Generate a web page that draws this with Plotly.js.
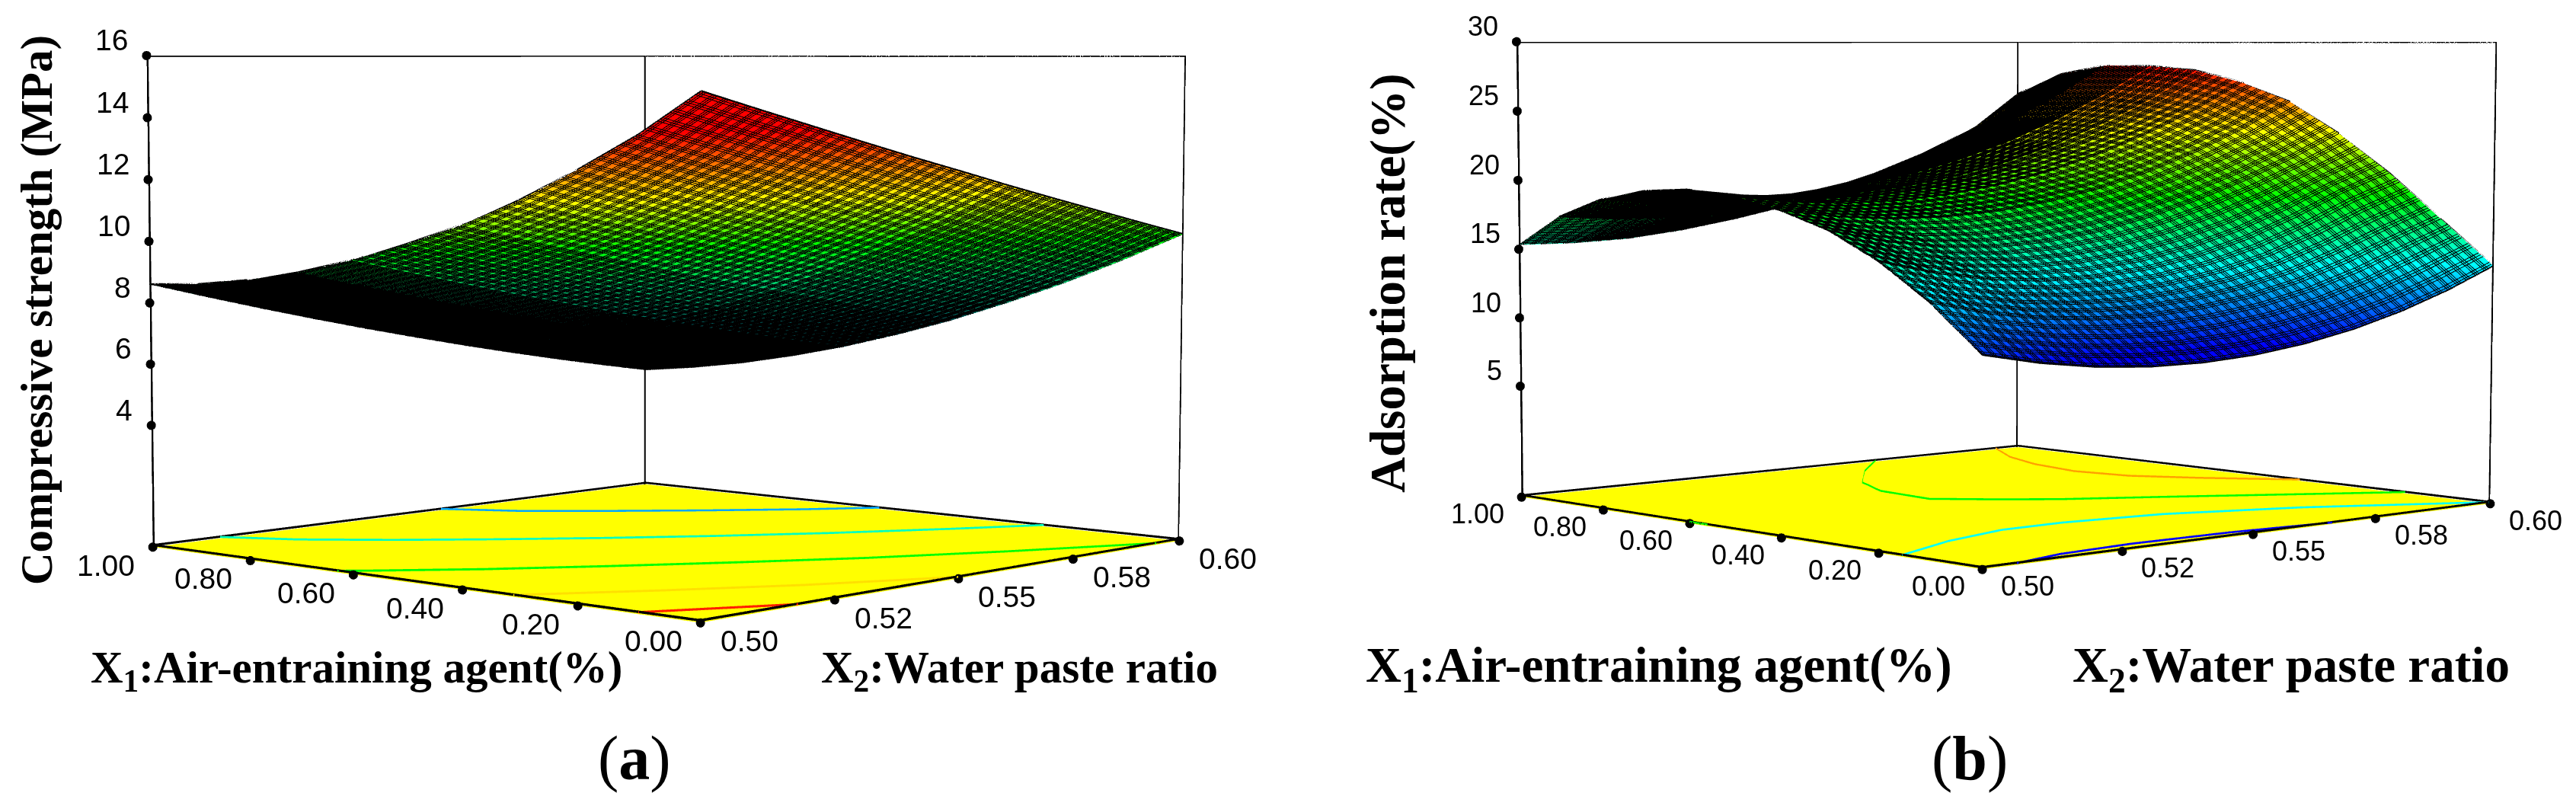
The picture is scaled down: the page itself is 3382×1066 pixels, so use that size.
<!DOCTYPE html>
<html>
<head>
<meta charset="utf-8">
<script src="https://cdn.plot.ly/plotly-3.0.1.min.js"></script>
<style>
  html, body { margin: 0; padding: 0; background: #fff; overflow: hidden; }
  /* plotly fixes the 3d fov at 45deg, the reference is much more telephoto,
     so the plot is taller than the page and only its middle shows */
  #page { position: relative; width: 3382px; height: 1066px; overflow: hidden; }
  #chart { position: absolute; left: 0; top: -1467px; width: 3382px; height: 4000px; }
</style>
</head>
<body>
<div id="page"><div id="chart"></div></div>
<script>
// shared axes
var x1Values = [0, 0.1, 0.2, 0.3, 0.4, 0.5, 0.6, 0.7, 0.8, 0.9, 1]
var x2Values = [0.5, 0.51, 0.52, 0.53, 0.54, 0.55, 0.56, 0.57, 0.58, 0.59, 0.6]
var x1Ticks = [0, 0.2, 0.4, 0.6, 0.8, 1]
var x1TickText = ['0.00', '0.20', '0.40', '0.60', '0.80', '1.00']
var x2Ticks = [0.5, 0.525, 0.55, 0.575, 0.6]
var x2TickText = ['0.50', '0.52', '0.55', '0.58', '0.60']

// (a) compressive strength, rows go with x2Values, columns with x1Values
var strength = [
  [15.00, 13.75, 12.70, 11.75, 10.95, 10.30, 9.73, 9.27, 8.93, 8.70, 8.60],
  [14.48, 13.26, 12.21, 11.27, 10.48, 9.83, 9.26, 8.78, 8.44, 8.20, 8.08],
  [13.97, 12.77, 11.74, 10.82, 10.03, 9.37, 8.80, 8.33, 7.96, 7.71, 7.58],
  [13.46, 12.30, 11.28, 10.37, 9.59, 8.93, 8.35, 7.87, 7.51, 7.26, 7.10],
  [12.96, 11.83, 10.83, 9.93, 9.15, 8.50, 7.93, 7.45, 7.08, 6.81, 6.64],
  [12.48, 11.36, 10.39, 9.50, 8.74, 8.09, 7.51, 7.03, 6.65, 6.38, 6.20],
  [11.99, 10.91, 9.95, 9.09, 8.34, 7.69, 7.12, 6.64, 6.26, 5.97, 5.78],
  [11.52, 10.47, 9.54, 8.69, 7.95, 7.30, 6.73, 6.25, 5.88, 5.58, 5.38],
  [11.06, 10.04, 9.13, 8.30, 7.57, 6.93, 6.37, 5.89, 5.51, 5.22, 5.00],
  [10.60, 9.62, 8.73, 7.93, 7.20, 6.57, 6.01, 5.54, 5.16, 4.86, 4.64],
  [10.15, 9.21, 8.34, 7.56, 6.85, 6.23, 5.68, 5.22, 4.83, 4.53, 4.30]
]
var strengthTicks = [4, 6, 8, 10, 12, 14, 16]
var strengthRange = [0, 16]
var strengthColor = [4.3, 15]
// the low end only shows as specks in the closed-up mesh of the reference
var strengthScale = [[0, '#000810'], [0.25, '#006060'], [0.4, '#00d070'], [0.54, '#00ff00'], [0.69, '#ffff00'], [0.89, '#ff0000'], [1, '#ff0000']]

// (b) adsorption rate
var adsorption = [
  [10.40, 13.45, 15.85, 17.65, 18.80, 19.55, 19.90, 19.65, 18.90, 17.50, 15.30],
  [9.60, 12.50, 14.87, 16.75, 18.23, 19.05, 19.40, 19.19, 18.51, 17.17, 15.25],
  [9.06, 11.90, 14.23, 16.20, 17.93, 18.83, 19.18, 19.02, 18.40, 17.13, 15.40],
  [8.78, 11.60, 13.93, 16.00, 17.91, 18.88, 19.24, 19.14, 18.59, 17.38, 15.85],
  [8.76, 11.55, 13.96, 16.20, 18.17, 19.20, 19.60, 19.55, 19.08, 17.93, 16.50],
  [8.99, 11.85, 14.33, 16.75, 18.70, 19.80, 20.23, 20.25, 19.85, 18.78, 17.30],
  [9.48, 12.40, 15.04, 17.60, 19.51, 20.67, 21.16, 21.24, 20.92, 19.91, 18.30],
  [10.22, 13.25, 16.09, 18.70, 20.59, 21.82, 22.36, 22.52, 22.27, 21.34, 19.50],
  [11.22, 14.45, 17.48, 20.00, 21.95, 23.24, 23.86, 24.09, 23.92, 23.07, 21.00],
  [12.48, 15.85, 19.10, 21.50, 23.59, 24.93, 25.64, 25.95, 25.87, 25.09, 23.00],
  [14.00, 17.20, 20.40, 23.20, 25.50, 26.90, 27.80, 28.10, 28.10, 27.40, 25.80]
]
var adsorptionTicks = [5, 10, 15, 20, 25, 30]
var adsorptionRange = [-3.15, 30]
var adsorptionColor = [9.5, 28.1]
var adsorptionScale = [[0, '#0000ff'], [0.25, '#00ffff'], [0.5, '#00ff00'], [0.75, '#ffff00'], [1, '#ff0000']]

// floor contours
var contoursA = [
  { color: '#00a8ff', x1: [1, 0.9, 0.8, 0.7, 0.6, 0.53], x2: [0.555, 0.561, 0.57, 0.58, 0.591, 0.6] },
  { color: '#00ffc0', x1: [1, 0.9, 0.8, 0.7, 0.6, 0.5, 0.4, 0.3, 0.23], x2: [0.512, 0.5175, 0.526, 0.536, 0.547, 0.559, 0.5725, 0.588, 0.6] },
  { color: '#00ff00', x1: [0.63, 0.6, 0.5, 0.4, 0.3, 0.2, 0.1, 0], x2: [0.5, 0.503, 0.514, 0.527, 0.541, 0.556, 0.574, 0.5945] },
  { color: '#ffe000', x1: [0.31, 0.3, 0.2, 0.1, 0], x2: [0.5, 0.5015, 0.5155, 0.531, 0.55] },
  { color: '#ff2000', x1: [0.1, 0.05, 0], x2: [0.5, 0.509, 0.518] }
]
var contoursB = [
  { color: '#ffa000', x1: [1, 0.89, 0.79, 0.68, 0.58, 0.49, 0.37], x2: [0.595, 0.588, 0.584, 0.582, 0.584, 0.59, 0.6] },
  { color: '#00ff00', x1: [1, 0.9, 0.79, 0.69, 0.57, 0.5, 0.44, 0.36, 0.25, 0.16], x2: [0.569, 0.558, 0.548, 0.543, 0.542, 0.549, 0.556, 0.569, 0.586, 0.6] },
  { color: '#00ff00', x1: [0.605, 0.56], x2: [0.5, 0.5] },
  { color: '#00ffff', x1: [0.154, 0.214, 0.249, 0.249, 0.221, 0.142, 0], x2: [0.5, 0.5136, 0.5265, 0.538, 0.555, 0.575, 0.6] },
  { color: '#0000ff', x1: [0, 0.024, 0.032, 0.023, 0], x2: [0.506, 0.516, 0.53, 0.548, 0.566] }
]

var flatLight = { ambient: 1, diffuse: 0, specular: 0, fresnel: 0, roughness: 1 }

function transpose(rows) {
  return rows[0].map(function (_, j) { return rows.map(function (r) { return r[j] }) })
}

// gl lines are stuck at 1px here, so thick lines are thin mesh ribbons.
// a ribbon runs along the path, dx wide along x2 and dz wide in height.
// plotly clips at the axis range, so they have to grow inwards
function ribbon(scene, color, paths, dx, dz) {
  var xs = [], ys = [], zs = [], is = [], js = [], ks = []
  paths.forEach(function (p) {
    var first = xs.length
    p.x.forEach(function (_, n) {
      xs.push(p.x[n], p.x[n] + dx)
      ys.push(p.y[n], p.y[n])
      zs.push(p.z[n], p.z[n] + dz)
      if (n > 0) {
        var a = first + 2 * (n - 1)
        is.push(a, a + 1)
        js.push(a + 1, a + 3)
        ks.push(a + 2, a + 2)
      }
    })
  })
  return {
    type: 'mesh3d', scene: scene, x: xs, y: ys, z: zs, i: is, j: js, k: ks,
    color: color, flatshading: true, lighting: flatLight, hoverinfo: 'skip', showlegend: false
  }
}

function thinLine(scene, color, path) {
  return {
    type: 'scatter3d', scene: scene, mode: 'lines', hoverinfo: 'skip', showlegend: false,
    x: path.x, y: path.y, z: path.z, line: { color: color, width: 1 }
  }
}

// same reason for the mesh: each surface draws its grid a hair further on.
// fromX1 / fromX2 limit a copy to the part of the surface where the mesh closes up
function meshSurface(scene, table, colorRange, colorScale, shift, fromX1, fromX2) {
  return {
    type: 'surface', scene: scene, x: x2Values, y: x1Values, z: transpose(table),
    colorscale: colorScale, cmin: colorRange[0], cmax: colorRange[1], showscale: false, hoverinfo: 'skip',
    lighting: flatLight,
    contours: {
      x: { show: fromX2 !== null, start: (fromX2 === null ? 0.5 : fromX2) + 0.0004 * shift, end: 0.6001, size: 0.002, color: '#000', width: 1, highlight: false },
      y: { show: fromX1 !== null, start: (fromX1 === null ? 0 : fromX1) + 0.004 * shift, end: 1.0001, size: 0.02, color: '#000', width: 1, highlight: false },
      z: { highlight: false }
    }
  }
}

function panelTraces(scene, table, colorRange, colorScale, zRange, zTicks, floorLines, extraMesh) {
  var lo = zRange[0], hi = zRange[1]
  var pxZ = (hi - lo) / 640  // roughly one screen pixel in z
  var base = lo + pxZ
  var traces = []

  function level(v, arr) { return arr.map(function () { return v }) }

  // floor outline, kept a touch inside the range, back top edges, uprights
  traces.push(ribbon(scene, '#000', [
    { x: [0.5001, 0.5001, 0.5999, 0.5999, 0.5001], y: [0.001, 0.999, 0.999, 0.001, 0.001], z: [base, base, base, base, base] }
  ], 0, 3 * pxZ))
  traces.push(ribbon(scene, '#000', [
    { x: [0.5, 0.6, 0.6], y: [1, 1, 0], z: [hi, hi, hi] }
  ], 0, -2 * pxZ))
  traces.push(ribbon(scene, '#000', [
    { x: [0.5, 0.5], y: [1, 1], z: [lo, hi] }
  ], 0.00035, 0))
  traces.push(ribbon(scene, '#000', [
    { x: [0.6, 0.6], y: [1, 1], z: [lo, hi] },
    { x: [0.6, 0.6], y: [0, 0], z: [lo, hi] }
  ], -0.00035, 0))

  floorLines.forEach(function (c) {
    var path = { x: c.x2, y: c.x1, z: level(base, c.x1) }
    traces.push(ribbon(scene, c.color, [path], 0, 2.5 * pxZ))
    traces.push(thinLine(scene, c.color, path))
  })

  // black rim of the surface
  var byX1 = transpose(table)
  traces.push(ribbon(scene, '#000', [
    { x: x2Values, y: level(0, x2Values), z: byX1[0] },
    { x: x2Values, y: level(1, x2Values), z: byX1[10] },
    { x: level(0.5, x1Values), y: x1Values, z: table[0] },
    { x: level(0.6, x1Values), y: x1Values, z: table[10] }
  ], 0, 1.5 * pxZ))

  // tick dots
  traces.push({
    type: 'scatter3d', scene: scene, mode: 'markers', hoverinfo: 'skip', showlegend: false,
    x: level(0.5, x1Ticks).concat(x2Ticks).concat(level(0.5, zTicks)),
    y: x1Ticks.concat(level(0, x2Ticks)).concat(level(1, zTicks)),
    z: level(lo, x1Ticks).concat(level(lo, x2Ticks)).concat(zTicks),
    marker: { color: '#000', size: 7 }
  })

  for (var s = 0; s < 3; s++) traces.push(meshSurface(scene, table, colorRange, colorScale, s, 0, 0.5))
  extraMesh.forEach(function (m) {
    traces.push(meshSurface(scene, table, colorRange, colorScale, m[0], m[1], m[2]))
  })
  return traces
}

function hiddenAxis(extra) {
  return Object.assign({
    title: { text: '' }, showgrid: false, zeroline: false, showline: false, showticklabels: false,
    ticks: '', showspikes: false, showbackground: false
  }, extra)
}

function tickNotes(zRange, zTicks, fontSize, dx1, dx2, dz, dy) {
  var font = { family: 'Liberation Sans', size: fontSize, color: '#000' }
  var notes = []
  x1Ticks.forEach(function (t, i) {
    notes.push({ x: 0.5, y: t, z: zRange[0], text: x1TickText[i], showarrow: false, font: font, xshift: dx1, yshift: -dy })
  })
  x2Ticks.forEach(function (t, i) {
    notes.push({ x: t, y: 0, z: zRange[0], text: x2TickText[i], showarrow: false, font: font, xshift: dx2, yshift: -dy })
  })
  zTicks.forEach(function (t) {
    notes.push({ x: 0.5, y: 1, z: t, text: String(t), showarrow: false, font: font, xanchor: 'right', xshift: dz, yshift: 20 })
  })
  return notes
}

function sceneLayout(domain, zRange, zAspect, eye, center, notes) {
  return {
    domain: { x: domain, y: [0, 1] },
    aspectmode: 'manual',
    aspectratio: { x: 1, y: 1, z: zAspect },
    camera: { eye: eye, center: center, up: { x: 0, y: 0, z: 1 }, projection: { type: 'perspective' } },
    xaxis: hiddenAxis({ range: [0.5, 0.6] }),
    yaxis: hiddenAxis({ range: [0, 1] }),
    zaxis: hiddenAxis({ range: zRange, showbackground: true, backgroundcolor: '#ffff00' }),
    annotations: notes
  }
}

// page pixel to paper fraction, the plot hangs 1467px above the page
function paperX(px) { return px / 3382 }
function paperY(py) { return 1 - (py + 1467) / 4000 }

function textNote(px, py, text, size, family, rotate) {
  return {
    xref: 'paper', yref: 'paper', x: paperX(px), y: paperY(py), text: text, showarrow: false,
    textangle: rotate || 0, xanchor: 'center', yanchor: 'middle',
    font: { family: family, size: size, color: '#000' }
  }
}

var serif = 'Liberation Serif'
var layout = {
  width: 3382, height: 4000,
  margin: { l: 0, r: 0, t: 0, b: 0 },
  paper_bgcolor: '#fff',
  showlegend: false,
  scene: sceneLayout([0, 0.5], strengthRange, 0.669, { x: -3.73, y: -3.359, z: 0.3345 }, { x: -0.023, y: 0.026, z: -0.144 },
    tickNotes(strengthRange, strengthTicks, 39, -62, 64, -22, 24)),
  scene2: sceneLayout([0.5, 1], adsorptionRange, 0.666, { x: -3.63, y: -3.9, z: 0.333 }, { x: -0.075, y: 0.07, z: -0.195 },
    tickNotes(adsorptionRange, adsorptionTicks, 36, -57, 60, -22, 22)),
  annotations: [
    textNote(468, 880, '<b>X<sub>1</sub>:Air-entraining agent(%)</b>', 59, serif),
    textNote(1338, 880, '<b>X<sub>2</sub>:Water paste ratio</b>', 59, serif),
    textNote(48, 407, '<b>Compressive strength (MPa)</b>', 59, serif, -90),
    textNote(833, 995, '(<b>a</b>)', 82, serif),
    textNote(2178, 878, '<b>X<sub>1</sub>:Air-entraining agent(%)</b>', 65, serif),
    textNote(3008, 878, '<b>X<sub>2</sub>:Water paste ratio</b>', 65, serif),
    textNote(1822, 372, '<b>Adsorption rate(%)</b>', 65, serif, -90),
    textNote(2586, 995, '(<b>b</b>)', 82, serif)
  ]
}

var data = panelTraces('scene', strength, strengthColor, strengthScale, strengthRange, strengthTicks, contoursA,
    [[3, 0.4, 0.56], [4, 0.6, null]])
  .concat(panelTraces('scene2', adsorption, adsorptionColor, adsorptionScale, adsorptionRange, adsorptionTicks, contoursB,
    [[3, 0.56, null], [4, 0.7, null]]))

Plotly.newPlot('chart', data, layout, { displayModeBar: false, plotGlPixelRatio: 1 })
</script>
</body>
</html>
